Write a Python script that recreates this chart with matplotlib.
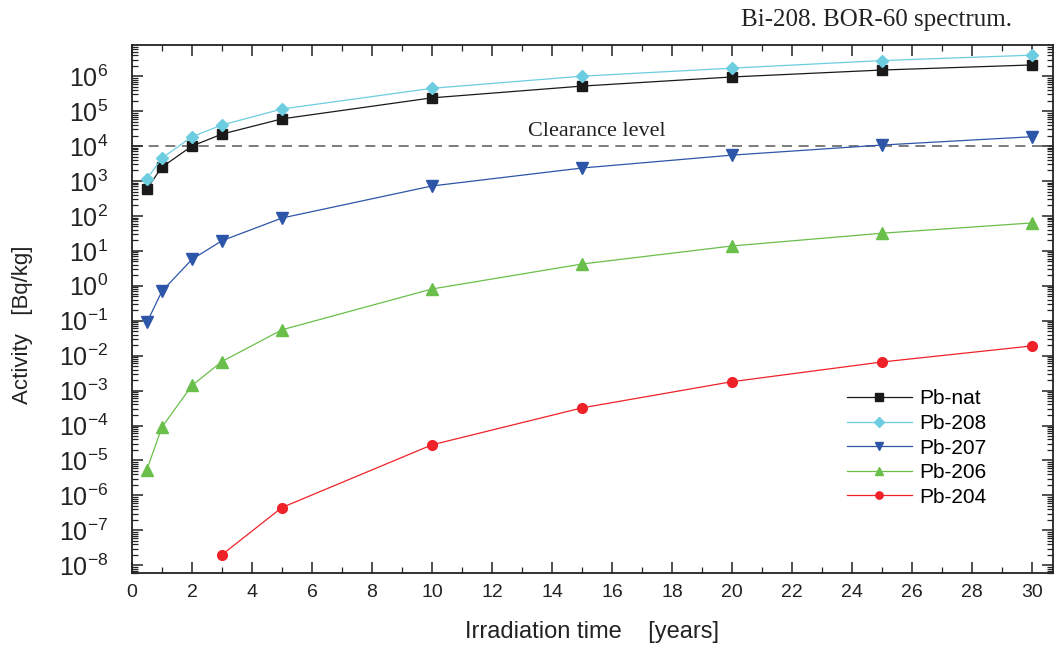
import numpy as np
import matplotlib
matplotlib.use("Agg")
import matplotlib.pyplot as plt
from matplotlib.ticker import LogLocator, MultipleLocator, FixedLocator, NullFormatter, FuncFormatter

plt.rcParams['font.family'] = ['Liberation Sans', 'DejaVu Sans']
plt.rcParams['mathtext.default'] = 'regular'

# irradiation times [years]
t_all = [0.5, 1, 2, 3, 5, 10, 15, 20, 25, 30]
t_204 = [3, 5, 10, 15, 20, 25, 30]

pb_nat = [6.0e2, 2.5e3, 1.0e4, 2.2e4, 6.0e4, 2.4e5, 5.2e5, 9.5e5, 1.5e6, 2.1e6]
pb_208 = [1.15e3, 4.5e3, 1.85e4, 4.0e4, 1.15e5, 4.5e5, 1.0e6, 1.7e6, 2.8e6, 4.0e6]
pb_207 = [0.09, 0.7, 5.7, 19.5, 87, 720, 2350, 5500, 1.07e4, 1.85e4]
pb_206 = [5.5e-6, 9.0e-5, 1.4e-3, 6.8e-3, 0.055, 0.81, 4.2, 13.8, 32, 63]
pb_204 = [2.0e-8, 4.5e-7, 2.8e-5, 3.2e-4, 1.8e-3, 6.6e-3, 0.019]

clearance = 1e4

fig = plt.figure(figsize=(10.64, 6.45), dpi=100)
ax = fig.add_axes([0.124, 0.1116, 0.8657, 0.8186])

ax.axhline(clearance, color='#666666', lw=1.2, ls=(0, (6, 4)), zorder=1)
ax.text(15.5, 10 ** 4.43, 'Clearance level', fontsize=16, ha='center', va='center',
        family='Liberation Serif', color='#222222')

ax.plot(t_all, pb_nat, '-s', color='#1a1a1a', lw=0.9, ms=7, label='Pb-nat')
ax.plot(t_all, pb_208, '-D', color='#6ccde0', lw=0.9, ms=6.5, label='Pb-208')
ax.plot(t_all, pb_207, '-v', color='#2e56a8', lw=0.9, ms=8, label='Pb-207')
ax.plot(t_all, pb_206, '-^', color='#6abf4b', lw=0.9, ms=8, label='Pb-206')
ax.plot(t_204, pb_204, '-o', color='#ee2228', lw=0.9, ms=7, label='Pb-204')

ax.set_yscale('log')
ax.set_xlim(0, 30.7)
ax.set_ylim(6e-9, 7.8e6)

ax.xaxis.set_major_locator(MultipleLocator(2))
ax.xaxis.set_minor_locator(MultipleLocator(1))
ax.yaxis.set_major_locator(FixedLocator([10.0 ** k for k in range(-8, 7)]))
ax.yaxis.set_minor_locator(LogLocator(base=10, subs=np.arange(2, 10), numticks=40))
ax.yaxis.set_minor_formatter(NullFormatter())
ax.yaxis.set_major_formatter(FuncFormatter(lambda v, p: r'$10^{%d}$' % round(np.log10(v))))

ax.tick_params(which='both', direction='in', top=True, right=True, colors='#222222')
ax.tick_params(which='major', length=8, width=1.1)
ax.tick_params(which='minor', length=4, width=0.9)
ax.tick_params(axis='x', labelsize=14, pad=8)
ax.tick_params(axis='y', labelsize=18, pad=17)
for s in ax.spines.values():
    s.set_linewidth(1.3)
    s.set_color('#222222')

ax.set_xlabel('Irradiation time    [years]', fontsize=17, color='#222222')
ax.xaxis.set_label_coords(0.5, -0.112)
ax.xaxis.label.set_va('center')
ax.set_ylabel('Activity   [Bq/kg]', fontsize=16, color='#222222')
ax.yaxis.set_label_coords(-0.119, 0.47)
ax.yaxis.label.set_va('center')

fig.text(1012 / 1064, 1 - 20 / 645, 'Bi-208. BOR-60 spectrum.', ha='right', va='center',
         fontsize=18, family='Liberation Serif', color='#222222')

ax.legend(loc='center left', bbox_to_anchor=(847 / 1064, 1 - 448 / 645),
          bbox_transform=fig.transFigure, frameon=False, fontsize=15,
          handlelength=3.1, labelspacing=0.27, handletextpad=0.35,
          borderpad=0, borderaxespad=0, markerscale=0.75)

fig.savefig('out.png', dpi=100)
